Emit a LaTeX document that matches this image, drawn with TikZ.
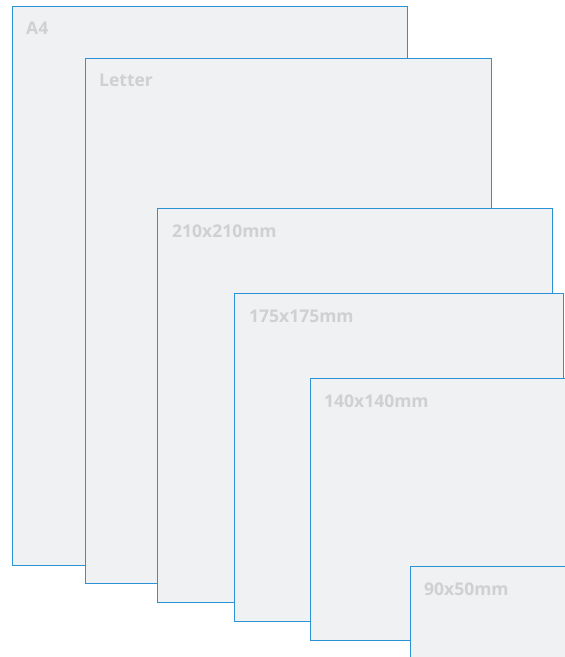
\documentclass[tikz,border=0pt]{standalone}
\usepackage{xcolor}
\usepackage{fontspec}
\setmainfont{Open Sans}
\usepackage{tikz}
\usetikzlibrary{positioning}
\definecolor{sheetblue}{HTML}{2A93D5}
\definecolor{sheetfill}{HTML}{F0F1F3}
\definecolor{labelgray}{HTML}{D0D0D0}
\tikzstyle{sheet} = [rectangle, draw=sheetblue, fill=sheetfill, line width=1.4pt, anchor=north west, inner sep=0pt]
\tikzstyle{sizelabel} = [text=labelgray, font=\fontsize{17.5}{20}\selectfont\bfseries, inner sep=0pt]

\begin{document}
\begin{tikzpicture}[x=1pt, y=-1pt]
        \useasboundingbox (0,0) rectangle (565,657);
        \clip (0,0) rectangle (565,657);
        \node (a4) [sheet, minimum width=395pt, minimum height=559pt] at (12,6) {};
        \node (letter) [sheet, minimum width=406pt, minimum height=525pt] at (85,58) {};
        \node (sq210) [sheet, minimum width=395pt, minimum height=394pt] at (157,208) {};
        \node (sq175) [sheet, minimum width=329pt, minimum height=328pt] at (234,293) {};
        \node (sq140) [sheet, minimum width=300pt, minimum height=262pt] at (310,378) {};
        \node (card) [sheet, minimum width=200pt, minimum height=150pt] at (410,566) {};
        
        \node (a4label) [sizelabel, below right=16pt and 14pt of a4.north west] {A4};
        \node (letterlabel) [sizelabel, below right=16pt and 14pt of letter.north west] {Letter};
        \node (sq210label) [sizelabel, below right=17pt and 15pt of sq210.north west] {210x210mm};
        \node (sq175label) [sizelabel, below right=17pt and 15pt of sq175.north west] {175x175mm};
        \node (sq140label) [sizelabel, below right=17pt and 14pt of sq140.north west] {140x140mm};
        \node (cardlabel) [sizelabel, below right=17pt and 14pt of card.north west] {90x50mm};
    \end{tikzpicture}
\end{document}
